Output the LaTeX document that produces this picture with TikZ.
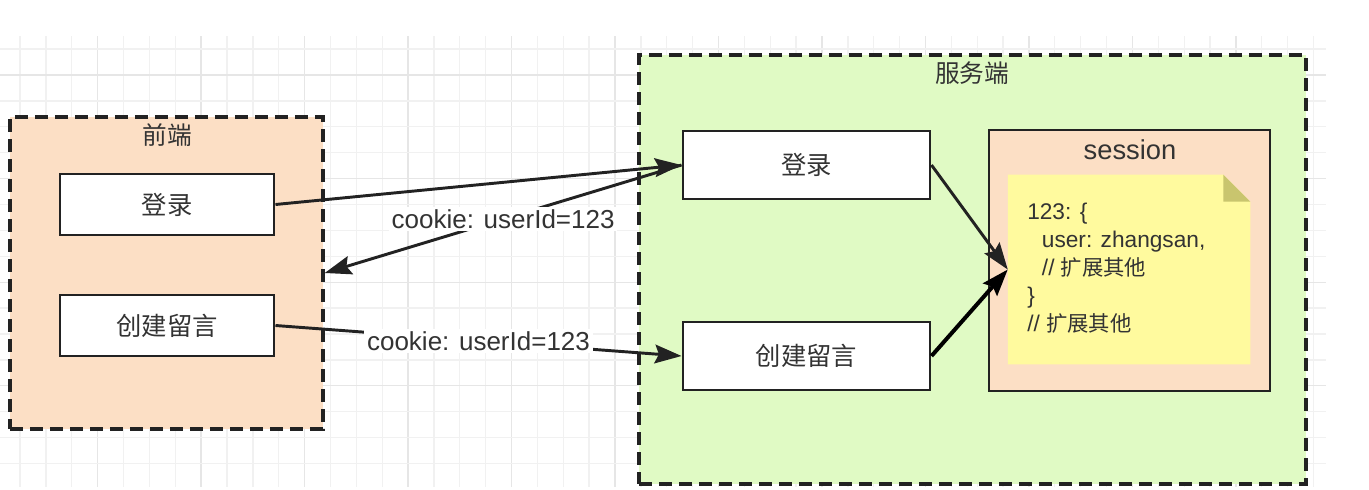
\documentclass[tikz,border=0pt]{standalone}
\usepackage{fontspec}
\setmainfont{Liberation Sans}
\newfontfamily\cjk{Noto Sans CJK SC}
\usetikzlibrary{arrows.meta,calc}
\definecolor{peach}{HTML}{FCDFC5}
\definecolor{lgreen}{HTML}{E0FAC4}
\definecolor{noteyellow}{HTML}{FFFA9E}
\definecolor{notefold}{HTML}{C9C56E}
\definecolor{gridminor}{HTML}{F1F1F1}
\definecolor{gridmajor}{HTML}{E6E6E6}
\definecolor{ink}{HTML}{222222}
\definecolor{txt}{HTML}{333333}
\begin{document}
\begin{tikzpicture}[x=0.75pt,y=-0.75pt,
  group/.style={draw=ink, line width=2.6pt, dash pattern=on 10pt off 5pt, rectangle, inner sep=0pt},
  btn/.style={draw=ink, fill=white, line width=2.2pt, inner sep=0pt, font=\cjk\fontsize{19}{22}\selectfont, text=txt},
  conn/.style={draw=ink, line width=2.2pt, -{Stealth[length=20pt,width=14pt,inset=3pt]}},
  lbl/.style={fill=white, inner sep=2pt, font=\fontsize{19.5}{22}\selectfont, text=txt},
  grptitle/.style={font=\cjk\fontsize{18.5}{22}\selectfont, text=txt}
]
\useasboundingbox (0,0) rectangle (1369,489);
% grid
\begin{scope}
\clip (0,36) rectangle (1326,487);
\foreach \k in {0,...,50} {
  \pgfmathsetmacro\xx{20+25.87*\k}
  \pgfmathtruncatemacro\mm{mod(\k,4)}
  \ifnum\mm=3
    \draw[gridmajor, line width=1pt] (\xx,36) -- (\xx,487);
  \else
    \draw[gridminor, line width=1pt] (\xx,36) -- (\xx,487);
  \fi
}
\foreach \k in {-1,...,17} {
  \pgfmathsetmacro\yy{49.1+25.9*\k}
  \pgfmathtruncatemacro\mm{mod(\k+4,4)}
  \ifnum\mm=1
    \draw[gridmajor, line width=1pt] (0,\yy) -- (1326,\yy);
  \else
    \draw[gridminor, line width=1pt] (0,\yy) -- (1326,\yy);
  \fi
}
\end{scope}
% groups
\node[group, fill=peach, minimum width=234.75pt, minimum height=234pt] (fe) at (166.5,273) {};
\node[grptitle] (fet) at (167,135) {前端};
\node[group, fill=lgreen, minimum width=500.25pt, minimum height=321.75pt] (srv) at (972.5,269.5) {};
\node[grptitle] (srvt) at (972,73) {服务端};
% buttons
\node[btn, minimum width=160.5pt, minimum height=45.75pt] (fl) at (167,204.5) {登录};
\node[btn, minimum width=160.5pt, minimum height=45.75pt] (fc) at (167,325.5) {创建留言};
\node[btn, minimum width=185.25pt, minimum height=51pt] (sl) at (806.5,165) {登录};
\node[btn, minimum width=185.25pt, minimum height=51pt] (sc) at (806.5,356) {创建留言};
% session
\node[draw=ink, fill=peach, line width=2.2pt, minimum width=210.75pt, minimum height=195.75pt, inner sep=0pt] (ses) at (1129.5,260.5) {};
\node[font=\fontsize{20.5}{24}\selectfont, text=txt] (sest) at (1130,150) {session};
\node[minimum width=181.5pt, minimum height=141.75pt, inner sep=0pt] (note) at (1129,269.5) {};
\fill[noteyellow] (note.north west) -- ($(note.north east)+(-27,0)$) -- ($(note.north east)+(0,27)$) -- (note.south east) -- (note.south west) -- cycle;
\fill[notefold] ($(note.north east)+(-27,0)$) -- ($(note.north east)+(0,27)$) -- ($(note.north east)+(-27,27)$) -- cycle;
\node[anchor=north west, align=left, inner sep=0pt, font=\fontsize{17}{21}\selectfont, text=txt] (code) at (1027,203)
  {123: \{\\ \hspace*{11pt}user: zhangsan,\\ \hspace*{11pt}// {\cjk\fontsize{16}{21}\selectfont 扩展其他}\\ \}\\ // {\cjk\fontsize{16}{21}\selectfont 扩展其他}};
% connectors
\draw[conn] (fl.east) -- (sl.west);
\draw[conn] (sl.west) -- node[lbl] {cookie: userId=123} (fe.east);
\draw[conn] (fc.east) -- node[lbl] {cookie: userId=123} (sc.west);
\draw[conn] (sl.east) -- (note.west);
\draw[conn, draw=black, line width=3pt] (sc.east) -- (note.west);
\end{tikzpicture}
\end{document}
